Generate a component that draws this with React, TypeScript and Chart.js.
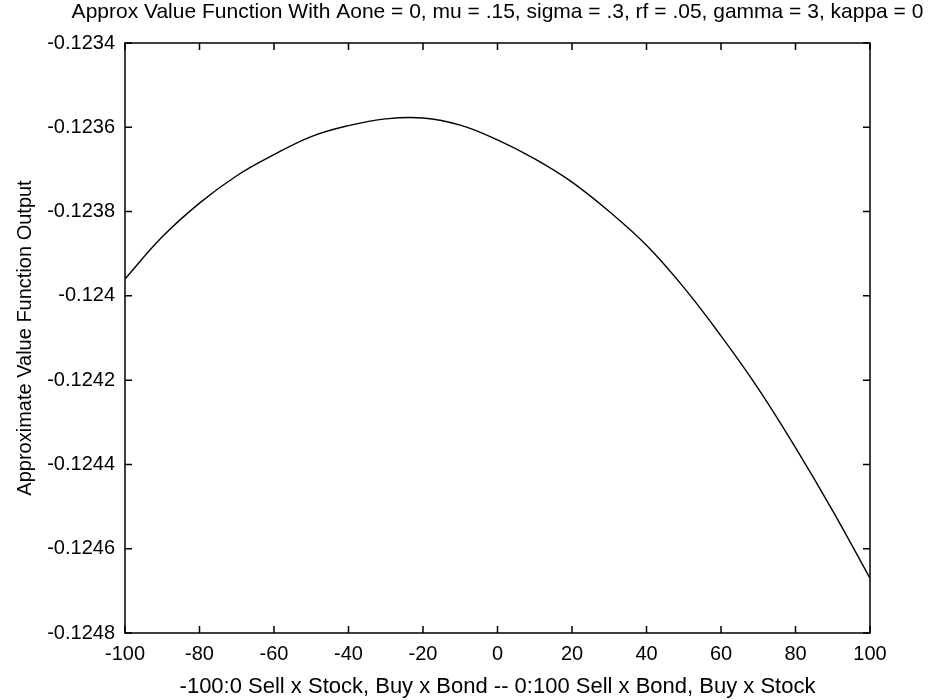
import React, { useEffect, useRef } from "react";
import { Chart, registerables } from "chart.js";

Chart.register(...registerables);

const TITLE =
  "Approx Value Function With Aone = 0, mu = .15, sigma = .3, rf = .05, gamma = 3, kappa = 0";
const X_LABEL = "-100:0 Sell x Stock, Buy x Bond -- 0:100 Sell x Bond, Buy x Stock";
const Y_LABEL = "Approximate Value Function Output";

const xValues = [-100, -90, -80, -70, -60, -50, -40, -30, -20, -10, 0, 10, 20, 30, 40, 50, 60, 70, 80, 90, 100];
const yValues = [
  -0.12396, -0.12386, -0.12378, -0.123715, -0.123665, -0.123622, -0.123596, -0.12358, -0.123578, -0.123595,
  -0.12363, -0.123675, -0.12373, -0.1238, -0.12388, -0.12398, -0.124095, -0.12422, -0.12436, -0.12451,
  -0.12467,
];

const xTicks = [-100, -80, -60, -40, -20, 0, 20, 40, 60, 80, 100];
const yTicks = [-0.1248, -0.1246, -0.1244, -0.1242, -0.124, -0.1238, -0.1236, -0.1234];

const FONT = '"Liberation Sans", Arial, Helvetica, sans-serif';

const framePlugin = {
  id: "frame",
  afterDraw(chart: any) {
    const { ctx, chartArea: a, scales } = chart;
    ctx.save();
    ctx.strokeStyle = "#000";
    ctx.lineWidth = 1.5;
    ctx.strokeRect(a.left, a.top, a.right - a.left, a.bottom - a.top);
    const L = 7;
    ctx.beginPath();
    for (const v of xTicks) {
      const px = scales.x.getPixelForValue(v);
      ctx.moveTo(px, a.bottom);
      ctx.lineTo(px, a.bottom - L);
      ctx.moveTo(px, a.top);
      ctx.lineTo(px, a.top + L);
    }
    for (const v of yTicks) {
      const py = scales.y.getPixelForValue(v);
      ctx.moveTo(a.left, py);
      ctx.lineTo(a.left + L, py);
      ctx.moveTo(a.right, py);
      ctx.lineTo(a.right - L, py);
    }
    ctx.stroke();
    ctx.fillStyle = "#000";
    ctx.font = "21px " + FONT;
    ctx.textAlign = "center";
    ctx.textBaseline = "middle";
    ctx.fillText(TITLE, (a.left + a.right) / 2, 12);
    ctx.restore();
  },
};

export default function App() {
  const ref = useRef<HTMLCanvasElement | null>(null);
  useEffect(() => {
    if (!ref.current) return;
    const chart = new Chart(ref.current, {
      type: "line",
      data: {
        datasets: [
          {
            data: xValues.map((x, i) => ({ x, y: yValues[i] })),
            borderColor: "#000",
            borderWidth: 1.4,
            pointRadius: 0,
            tension: 0.4,
            fill: false,
          },
        ],
      },
      options: {
        animation: false,
        responsive: false,
        layout: { padding: { top: 43, right: 68, left: 0, bottom: 0 } },
        plugins: { legend: { display: false }, tooltip: { enabled: false }, title: { display: false } },
        scales: {
          x: {
            type: "linear",
            min: -100,
            max: 100,
            afterBuildTicks: (s: any) => {
              s.ticks = xTicks.map((v) => ({ value: v }));
            },
            afterFit: (s: any) => {
              s.height = 67;
            },
            grid: { display: false, drawTicks: false },
            border: { display: false },
            ticks: { color: "#000", font: { family: FONT, size: 20 }, padding: 9, maxRotation: 0 },
            title: {
              display: true,
              text: X_LABEL,
              color: "#000",
              font: { family: FONT, size: 22 },
              padding: { top: 0, bottom: 0 },
            },
          },
          y: {
            type: "linear",
            min: -0.1248,
            max: -0.1234,
            afterBuildTicks: (s: any) => {
              s.ticks = yTicks.map((v) => ({ value: v }));
            },
            afterFit: (s: any) => {
              s.width = 125;
            },
            grid: { display: false, drawTicks: false },
            border: { display: false },
            ticks: {
              color: "#000",
              font: { family: FONT, size: 20 },
              padding: 10,
              callback: (v: any) => String(Number(Number(v).toFixed(4))),
            },
            title: {
              display: true,
              text: Y_LABEL,
              color: "#000",
              font: { family: FONT, size: 20 },
              padding: { top: 13, bottom: 0 },
            },
          },
        },
      },
      plugins: [framePlugin],
    });
    return () => chart.destroy();
  }, []);
  return (
    <div style={{ position: "absolute", left: 0, top: 0, width: 938, height: 700 }}>
      <canvas ref={ref} width={938} height={700} style={{ display: "block" }} />
    </div>
  );
}
